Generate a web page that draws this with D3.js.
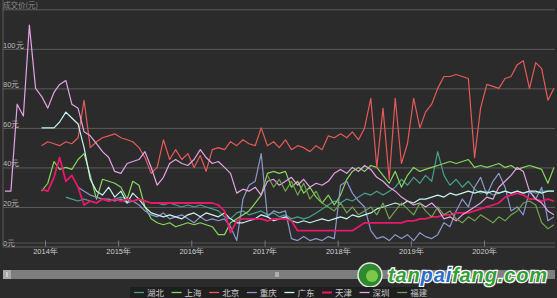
<!DOCTYPE html>
<html>
<head>
<meta charset="utf-8">
<script src="https://cdn.jsdelivr.net/npm/d3@7"></script>
<style>
  body { margin: 0; background: #2b2b2b; }
  svg { display: block; font-family: "Noto Sans CJK SC", "Noto Sans", sans-serif; }
</style>
</head>
<body>
<svg></svg>
<script>
// monthly average prices (元), each series starts at its own month
const seriesNames = ['湖北', '上海', '北京', '重庆', '广东', '天津', '深圳', '福建'];
const seriesStart = ['2014-04', '2013-12', '2013-12', '2014-06', '2013-12', '2013-12', '2013-06', '2017-01'];

const hubei = [25,24,23,24,23,22,24,23,24,25, 24,23,24,23,22,22,21,22,21,20,
  21,20,21,20,19,18,15,14,17,18, 16,17,18,16,17,15,16,14,15,14,
  15,17,19,21,23,22,24,23,25,27, 26,28,26,28,30,34,31,35,32,36,
  33,48,36,31,34,30,33,29,27,28, 26,27,28,27,28,27,28,27,28,28, 28];
const shanghai = [28,32,43,39,40,39,44,47,36,24, 34,33,32,30,24,33,31,20,14,12,
  11,12,10,11,12,11,12,11,10,6, 6,12,14,16,18,22,26,37,38,37,
  38,30,33,27,30,25,22,26,21,26, 34,38,40,38,41,40,36,32,38,30,
  36,40,38,39,40,41,42,43,42,43, 44,40,41,40,41,42,40,41,39,40, 41,40,39,32,40];
const beijing = [51,53,52,51,53,52,55,74,50,53, 55,56,57,55,54,53,50,45,37,40,
  54,44,49,44,47,40,46,38,49,50, 49,53,51,54,52,51,60,51,53,50,
  54,49,51,50,48,51,49,56,55,57, 55,58,54,60,75,40,70,34,75,42,
  52,75,60,68,72,80,86,86,87,86, 85,45,70,82,81,80,85,86,92,94, 80,93,90,74,80];
const chongqing = [30,28,26,25,24,24,23,24, 22,23,21,18,16,15,17,14,15,16,
  14,12,15,13,14,13,14,10,3,24, 31,33,47,15,18,17,18,4,3,5,
  3,4,3,5,4,31,33,27,23,20, 8,4,5,3,6,4,6,3,7,5,
  4,6,12,10,18,24,20,30,35,26, 33,37,30,18,20,16,28,24,30,13, 15];
const guangdong = [60,60,60,63,68,65,62,50,34,28, 26,30,25,28,22,27,24,20,17,16,
  15,16,15,14,16,17,15,17,16,15, 17,14,12,12,13,14,16,15,13,14,
  15,13,12,13,12,13,14,13,14,15, 14,16,15,16,17,19,20,21,22,21,
  23,22,24,24,25,26,25,27,26,27, 28,27,28,27,28,27,28,27,28,27, 28,28,27,28,28];
const tianjin = [29,28,35,45,33,36,30,21,23,22, 24,23,24,23,24,23,24,23,22,22,
  22,22,22,22,22,22,22,22,22,21, 18,7,13,14,14,14,14,13,14,14,
  14,13,8,8,8,8,8,8,8,8, 8,8,10,12,12,12,12,12,12,12,
  13,13,14,14,15,15,16,16,17,17, 17,18,19,20,21,22,25,26,27,26, 24,24,23,24,23];
const shenzhen = [28,28,72,66,112,80,76,70,78,82, 84,72,70,58,56,52,48,45,38,37,
  42,43,44,48,40,31,35,42,44,42, 41,44,49,45,42,43,40,37,27,29,
  28,30,26,33,34,31,33,35,31,34, 30,32,31,33,37,39,37,40,38,41,
  39,35,33,30,28,25,23,21,22,20, 22,19,14,15,13,16,18,20,22,25,
  24,30,33,36,40,38,28,24,22,18, 16];
const fujian = [36,30,34,28,33,26,32, 24,28,22,20,18,22,17,20,16,18,
  20,16,22,14,18,22,19,16,22,18, 15,20,16,18,14,12,15,13,16,14,
  12,15,13,16,18,22,23,21,12,9, 11];

const yTicks = [0, 20, 40, 60, 80, 100, 120];
const yearTicks = [2014, 2015, 2016, 2017, 2018, 2019, 2020];

const seriesValues = [hubei, shanghai, beijing, chongqing, guangdong, tianjin, shenzhen, fujian];
const colors = ['#45a08c', '#86d65e', '#e65a58', '#8c98cc', '#c8f3ee', '#e8186a', '#e6a2e6', '#6fa24c'];

const width = 557, height = 298;
const svg = d3.select('svg').attr('width', width).attr('height', height);

svg.append('rect').attr('width', width).attr('height', height).attr('fill', '#2b2b2b');

const x = d3.scaleTime()
  .domain([new Date(2014, 0, 1), new Date(2020, 0, 1)])
  .range([45, 484]);
const y = d3.scaleLinear().domain([0, 120]).range([246.5, 9.3]);

const parseMonth = d3.timeParse('%Y-%m');

// grid + labels
const yAxis = d3.axisRight(y).tickValues(yTicks).tickSize(552).tickFormat(d => d + '元');
const yg = svg.append('g').attr('transform', 'translate(3,0)').call(yAxis);
yg.select('.domain').remove();
yg.selectAll('line').attr('stroke', '#5c5c5c');
yg.selectAll('text')
  .attr('x', 0).attr('dy', -1.5)
  .attr('fill', '#bdbdbd').style('font-size', '7.5px')
  .style('opacity', d => d === 120 ? 0 : 1);

svg.append('line').attr('x1', 3).attr('x2', 555).attr('y1', 243).attr('y2', 243)
  .attr('stroke', '#555');
svg.append('line').attr('x1', 3).attr('x2', 3).attr('y1', 0).attr('y2', 246.5)
  .attr('stroke', '#5c5c5c');

const xAxis = d3.axisBottom(x)
  .tickValues(yearTicks.map(yr => new Date(yr, 0, 1)))
  .tickSize(-6)
  .tickFormat(d => d.getFullYear() + '年');
const xg = svg.append('g').attr('transform', 'translate(0,246.5)').call(xAxis);
xg.select('.domain').remove();
xg.selectAll('line').attr('stroke', '#777');
xg.selectAll('text').attr('fill', '#cfcfcf').style('font-size', '7.5px').attr('y', 2);

svg.append('text').attr('x', 3).attr('y', 8)
  .attr('fill', '#8c8c8c').style('font-size', '7.5px').text('成交价(元)');

// lines
const line = d3.line()
  .x(d => x(d.date))
  .y(d => y(d.value));

seriesNames.forEach((name, k) => {
  const start = parseMonth(seriesStart[k]);
  const pts = seriesValues[k].map((v, i) => {
    const dt = d3.timeMonth.offset(start, i);
    dt.setDate(15);
    return { date: dt, value: v };
  });
  svg.append('path')
    .datum(pts)
    .attr('fill', 'none')
    .attr('stroke', colors[k])
    .attr('stroke-width', name === '天津' ? 1.8 : 1.2)
    .attr('stroke-linejoin', 'round')
    .attr('d', line);
});

// data zoom slider
svg.append('rect').attr('x', 3).attr('y', 270).attr('width', 552).attr('height', 9)
  .attr('fill', '#7e7e7e');
svg.append('rect').attr('x', 3).attr('y', 270).attr('width', 8).attr('height', 9)
  .attr('fill', '#a9a9a9');
svg.append('line').attr('x1', 7).attr('x2', 7).attr('y1', 272).attr('y2', 277)
  .attr('stroke', '#eee');
[276, 278].forEach(px => {
  svg.append('line').attr('x1', px).attr('x2', px).attr('y1', 272).attr('y2', 277)
    .attr('stroke', '#ddd');
});

// watermark
const wm = svg.append('g');
wm.append('circle').attr('cx', 370).attr('cy', 275).attr('r', 12)
  .attr('fill', '#2f8a2f').attr('stroke', '#e8e8e8').attr('stroke-width', 1.5);
wm.append('circle').attr('cx', 372).attr('cy', 276).attr('r', 6)
  .attr('fill', '#7cc84a');
const wmText = wm.append('text')
  .attr('x', 388).attr('y', 282)
  .attr('textLength', 159)
  .style('font-family', '"Liberation Sans", Arial, sans-serif')
  .style('font-size', '20px').style('font-weight', 'bold').style('font-style', 'italic')
  .attr('stroke', '#ffffff').attr('stroke-width', 2.5).attr('paint-order', 'stroke');
wmText.append('tspan').attr('fill', '#34a034').text('tan');
wmText.append('tspan').attr('fill', '#2a6cc8').text('pai');
wmText.append('tspan').attr('fill', '#34a034').text('fang.com');

// legend
svg.append('rect').attr('x', 130).attr('y', 287).attr('width', 297).attr('height', 11)
  .attr('fill', '#1f1f1f');
const legend = svg.selectAll('.legend')
  .data(seriesNames)
  .enter()
  .append('g')
  .attr('class', 'legend')
  .attr('transform', (d, i) => `translate(${134 + i * 37.6},292.5)`);
legend.append('line')
  .attr('x1', 0).attr('x2', 10)
  .attr('stroke', (d, i) => colors[i])
  .attr('stroke-width', d => d === '天津' ? 2 : 1.3);
legend.append('text')
  .attr('x', 13).attr('y', 3)
  .attr('fill', '#cccccc')
  .style('font-size', '8.5px')
  .text(d => d);
</script>
</body>
</html>
